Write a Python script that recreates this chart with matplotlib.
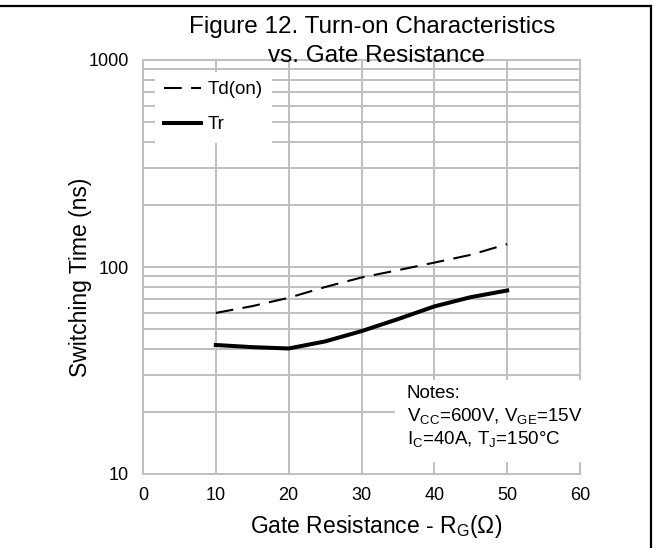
import numpy as np
import matplotlib
matplotlib.use('Agg')
import matplotlib.pyplot as plt
from matplotlib.ticker import FixedLocator, NullFormatter
from matplotlib.lines import Line2D
from matplotlib.patches import Rectangle

plt.rcParams['font.family'] = ['Liberation Sans', 'DejaVu Sans']
plt.rcParams['mathtext.fontset'] = 'custom'
plt.rcParams['mathtext.rm'] = 'Liberation Sans'
plt.rcParams['mathtext.it'] = 'Liberation Sans'

# data
rg = [10, 15, 20, 25, 30, 35, 40, 45, 50]
td_on = [60, 64.7, 71, 80, 89, 96.5, 105, 114.5, 129]
tr = [42, 41, 40.4, 43.7, 49, 56, 64.5, 71.5, 77]
x_ticks = [0, 10, 20, 30, 40, 50, 60]
y_ticks = [10, 100, 1000]
y_minor = [m * d for d in [10, 100] for m in range(2, 10)]

W, H = 654, 548
grid_c = '#bfbfbf'

fig = plt.figure(figsize=(W / 100, H / 100), dpi=100)
ax = fig.add_axes([143 / W, 1 - 474 / H, (580 - 143) / W, (474 - 60) / H])

ax.plot(rg, td_on, color='black', lw=1.5, dashes=(8.5, 4.5), label='Td(on)', zorder=3)
ax.plot(rg, tr, color='black', lw=2.9, label='Tr', zorder=3)

ax.set_yscale('log')
ax.set_xlim(0, 60)
ax.set_ylim(10, 1000)
ax.set_xticks(x_ticks)
ax.set_xticklabels([str(v) for v in x_ticks])
ax.yaxis.set_major_locator(FixedLocator(y_ticks))
ax.set_yticklabels([str(v) for v in y_ticks])
ax.yaxis.set_minor_locator(FixedLocator(y_minor))
ax.yaxis.set_minor_formatter(NullFormatter())
ax.tick_params(axis='both', which='both', length=0, labelsize=13)
ax.tick_params(axis='x', pad=9)
ax.tick_params(axis='y', pad=10)
ax.set_axisbelow(True)
ax.grid(True, which='both', color=grid_c, lw=1.4)
for s in ax.spines.values():
    s.set_color(grid_c)
    s.set_linewidth(1.4)

leg = ax.legend(loc='upper left', bbox_to_anchor=((155 - 143) / 437, (474 - 72) / 414),
                frameon=True, facecolor='white', edgecolor='none', framealpha=1,
                fancybox=False, fontsize=13.5, handlelength=1.95, handletextpad=0.35,
                labelspacing=0.95, borderpad=0.5, borderaxespad=0)
leg.get_frame().set_linewidth(0)

# notes box
ax.add_patch(Rectangle(((395 - 143) / 437, (474 - 462) / 414), (584 - 395) / 437, (462 - 380) / 414,
                       transform=ax.transAxes, facecolor='white', edgecolor='none',
                       clip_on=False, zorder=4))
nx = (407 - 143) / 437
ax.text(nx, (474 - 393) / 414, 'Notes:', transform=ax.transAxes, fontsize=13.5,
        va='center', ha='left', zorder=5)
ax.text(nx, (474 - 416) / 414, r'V$_{\mathrm{CC}}$=600V, V$_{\mathrm{GE}}$=15V', transform=ax.transAxes,
        fontsize=13.5, va='center', ha='left', zorder=5)
ax.text(nx, (474 - 439) / 414, r'I$_{\mathrm{C}}$=40A, T$_{\mathrm{J}}$=150°C', transform=ax.transAxes,
        fontsize=13.5, va='center', ha='left', zorder=5)

# titles and axis labels
fig.text(372 / W, 1 - 33 / H, 'Figure 12. Turn-on Characteristics', ha='center', va='baseline', fontsize=17.5)
fig.text(376 / W, 1 - 62 / H, 'vs. Gate Resistance', ha='center', va='baseline', fontsize=17.5)
fig.text(80 / W, 1 - 277 / H, 'Switching Time (ns)', rotation=90, ha='center', va='center', fontsize=16.5)
fig.text(376 / W, 1 - 526 / H, r'Gate Resistance - R$_{\mathrm{G}}$(Ω)', ha='center', va='center', fontsize=16.5)

# outer border (top and right)
fig.add_artist(Line2D([0, 651 / W], [1 - 6 / H, 1 - 6 / H], transform=fig.transFigure, color='black', lw=1.6))
fig.add_artist(Line2D([651 / W, 651 / W], [1 - 6 / H, 0], transform=fig.transFigure, color='black', lw=1.6))

fig.savefig('out.png', dpi=100)
